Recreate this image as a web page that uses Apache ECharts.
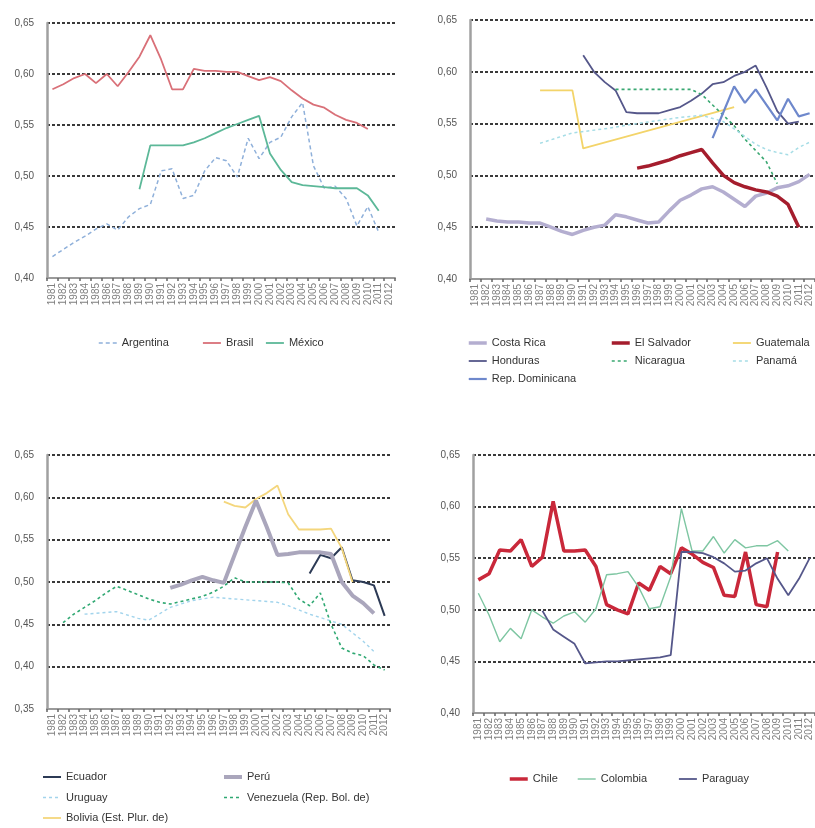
<!DOCTYPE html>
<html>
<head>
<meta charset="utf-8">
<script src="https://cdn.jsdelivr.net/npm/echarts@6/dist/echarts.min.js"></script>
<style>
html,body{margin:0;padding:0;background:#fff;}
#chart{width:815px;height:828px;}
</style>
</head>
<body>
<div id="chart"></div>
<script>
// ---- Tick labels (years) ----
const years = ['1981','1982','1983','1984','1985','1986','1987','1988','1989','1990',
  '1991','1992','1993','1994','1995','1996','1997','1998','1999','2000',
  '2001','2002','2003','2004','2005','2006','2007','2008','2009','2010','2011','2012'];

// ---- Panel 1 ----
const argentina = [0.421,0.428,0.435,0.441,0.448,0.453,0.447,0.460,0.468,0.472,0.505,0.507,0.478,0.481,0.505,0.518,0.515,0.499,0.537,0.517,0.533,0.538,0.558,0.572,0.510,0.488,0.490,0.478,0.451,0.470,0.445,null];
const brasil = [0.585,0.590,0.596,0.600,0.591,0.600,0.588,0.602,0.617,0.638,0.614,0.585,0.585,0.605,0.603,0.603,0.602,0.602,0.598,0.594,0.597,0.593,0.584,0.576,0.570,0.567,0.560,0.555,0.552,0.546,null,null];
const mexico = [null,null,null,null,null,null,null,null,0.487,0.530,0.530,0.530,0.530,0.533,0.537,0.542,0.547,0.551,0.555,0.559,0.522,0.506,0.494,0.491,0.490,0.489,0.488,0.488,0.488,0.481,0.466,null];

// ---- Panel 2 ----
const costaRica = [null,0.458,0.456,0.455,0.455,0.454,0.454,0.450,0.446,0.443,0.447,0.450,0.452,0.462,0.460,0.457,0.454,0.455,0.466,0.476,0.481,0.487,0.489,0.484,0.477,0.470,0.480,0.483,0.488,0.490,0.494,0.501];
const elSalvador = [null,null,null,null,null,null,null,null,null,null,null,null,null,null,null,0.507,0.509,0.512,0.515,0.519,0.522,0.525,0.512,0.500,0.493,0.489,0.486,0.484,0.480,0.472,0.450,null];
const guatemala = [null,null,null,null,null,null,0.582,null,null,0.582,0.526,null,null,null,null,null,null,null,null,null,null,null,null,null,0.566,null,null,null,null,null,null,null];
const honduras = [null,null,null,null,null,null,null,null,null,null,0.616,0.600,0.590,0.582,0.561,0.560,0.560,0.560,0.563,0.566,0.572,0.579,0.588,0.590,0.596,0.600,0.606,0.585,0.562,0.550,0.552,null];
const nicaragua = [null,null,null,null,null,null,null,null,null,null,null,null,null,0.583,null,null,null,null,null,null,0.583,0.578,0.568,0.558,0.548,0.535,0.524,0.513,0.492,null,null,null];
const panama = [null,null,null,null,null,null,0.531,null,null,0.541,null,null,0.545,null,null,0.550,null,0.553,null,0.556,null,0.558,null,0.552,0.545,null,0.530,0.525,0.522,0.520,0.527,0.532];
const repDominicana = [null,null,null,null,null,null,null,null,null,null,null,null,null,null,null,null,null,null,null,null,null,null,0.536,0.561,0.586,0.570,0.583,0.568,0.553,0.574,0.557,0.560];

// ---- Panel 3 ----
const ecuador = [null,null,null,null,null,null,null,null,null,null,null,null,null,null,null,null,null,null,null,null,null,null,null,null,0.510,0.532,0.528,0.541,0.502,0.500,0.496,0.460];
const uruguay = [null,null,null,0.462,null,null,0.465,null,0.457,0.455,null,0.470,null,0.478,null,0.482,null,0.480,null,0.478,null,0.476,0.472,null,0.462,null,null,0.450,null,0.430,0.418,null];
const bolivia = [null,null,null,null,null,null,null,null,null,null,null,null,null,null,null,null,0.595,0.590,0.588,0.598,0.605,0.614,0.580,0.562,0.562,0.562,0.563,0.540,0.500,null,null,null];
const peru = [null,null,null,null,null,null,null,null,null,null,null,0.493,0.497,0.502,0.506,0.502,0.499,0.532,0.565,0.596,0.565,0.532,0.533,0.535,0.535,0.535,0.533,0.500,0.484,0.475,0.463,null];
const venezuela = [null,0.452,0.462,0.470,0.478,0.487,0.495,0.490,0.485,0.480,0.476,0.474,0.477,0.480,0.483,0.488,0.495,0.505,0.500,0.500,0.500,0.500,0.499,0.480,0.472,0.487,0.450,0.422,0.416,0.413,0.402,0.396];

// ---- Panel 4 ----
const chile = [0.529,0.535,0.558,0.557,0.568,0.542,0.551,0.605,0.557,0.557,0.558,0.542,0.505,0.500,0.496,0.526,0.519,0.542,0.535,0.560,0.554,0.546,0.541,0.514,0.513,0.556,0.505,0.503,0.556,null,null,null];
const colombia = [0.516,0.495,0.469,0.482,0.472,0.500,0.493,0.487,0.494,0.498,0.488,0.501,0.534,0.535,0.537,0.522,0.501,0.503,0.532,0.598,0.557,0.557,0.571,0.555,0.568,0.560,0.562,0.562,0.567,0.557,null,null];
const paraguay = [null,null,null,null,null,null,0.499,0.481,0.474,0.467,0.448,0.449,0.450,0.450,0.451,0.452,0.453,0.454,0.456,0.556,0.556,0.555,0.551,0.545,0.537,0.538,0.545,0.550,0.530,0.514,0.530,0.550];

// ---- Axis ranges ----
const yMin = [0.40, 0.40, 0.35, 0.40];
const yMax = [0.65, 0.65, 0.65, 0.65];

const FONT = "'Liberation Sans Narrow','Liberation Sans',Arial,sans-serif";
const FONT2 = "'Liberation Sans',Arial,sans-serif";

const grids = [
  {left: 47, top: 23, width: 348, height: 255},
  {left: 470, top: 20, width: 347, height: 259},
  {left: 47, top: 455, width: 343, height: 254},
  {left: 473, top: 455, width: 347, height: 258}
];

const xAxes = grids.map((g, i) => ({
  type: 'category', gridIndex: i, data: years, boundaryGap: true,
  axisLine: {show: true, lineStyle: {color: '#9a9a9a', width: 2}},
  axisTick: {show: true, interval: 0, length: 3, lineStyle: {color: '#666', width: 1.5}},
  axisLabel: {interval: 0, rotate: 90, fontSize: 10, color: '#808080', fontFamily: FONT2, margin: 5},
  splitLine: {show: false}
}));

const yAxes = grids.map((g, i) => ({
  type: 'value', gridIndex: i, min: yMin[i], max: yMax[i], interval: 0.05,
  axisLine: {show: true, lineStyle: {color: '#a0a0a0', width: 2.5}},
  axisTick: {show: false},
  axisLabel: {fontSize: 10, color: '#555', fontFamily: FONT, margin: 13,
    formatter: v => v.toFixed(2).replace('.', ',')},
  splitLine: {show: true, lineStyle: {color: '#3a3a3a', width: 2, type: [3, 2]}}
}));

function line(name, data, gi, color, width, dash, connect) {
  return {
    name, type: 'line', data, xAxisIndex: gi, yAxisIndex: gi,
    symbol: 'none', connectNulls: !!connect, animation: false,
    lineStyle: {color, width, type: dash || 'solid'},
    itemStyle: {color}
  };
}

const series = [
  line('Argentina', argentina, 0, '#8fb0da', 1.5, [4, 3]),
  line('Brasil', brasil, 0, '#d97078', 1.8),
  line('México', mexico, 0, '#5cb898', 1.8),

  line('Costa Rica', costaRica, 1, '#b4aed0', 3.5),
  line('El Salvador', elSalvador, 1, '#a51d2d', 3.5),
  line('Guatemala', guatemala, 1, '#f3d46a', 1.8, null, true),
  line('Honduras', honduras, 1, '#55578a', 1.8),
  line('Nicaragua', nicaragua, 1, '#3aa872', 1.6, [3, 3], true),
  line('Panamá', panama, 1, '#a6dde6', 1.5, [3, 3], true),
  line('Rep. Dominicana', repDominicana, 1, '#6e88cc', 2.2),

  line('Ecuador', ecuador, 2, '#2c3a55', 2),
  line('Uruguay', uruguay, 2, '#a2d4ec', 1.4, [3, 3], true),
  line('Bolivia (Est. Plur. de)', bolivia, 2, '#f4d67c', 1.8),
  line('Perú', peru, 2, '#aaa6bc', 4),
  line('Venezuela (Rep. Bol. de)', venezuela, 2, '#2fa872', 1.6, [3, 3]),

  line('Chile', chile, 3, '#c9283a', 3.5),
  line('Colombia', colombia, 3, '#7ec6a2', 1.4),
  line('Paraguay', paraguay, 3, '#55578a', 1.8)
];

const legendText = {fontSize: 11, color: '#333', fontFamily: FONT, lineHeight: 12};
function legend(names, left, top, orient, gap) {
  return {data: names, left, top, orient: orient || 'horizontal', itemGap: gap || 10,
    itemWidth: 18, itemHeight: 10, textStyle: legendText, padding: 0,
    itemStyle: {opacity: 0}, lineStyle: {width: 'inherit'}, selectedMode: false};
}

const option = {
  backgroundColor: '#fff',
  animation: false,
  grid: grids,
  xAxis: xAxes,
  yAxis: yAxes,
  legend: [
    legend(['Argentina'], 98, 337),
    legend(['Brasil'], 202, 337),
    legend(['México'], 265, 337),
    legend(['Costa Rica', 'Honduras', 'Rep. Dominicana'], 467, 337, 'vertical', 6),
    legend(['El Salvador', 'Nicaragua'], 610, 337, 'vertical', 6),
    legend(['Guatemala', 'Panamá'], 732, 337, 'vertical', 6),
    legend(['Ecuador', 'Uruguay', 'Bolivia (Est. Plur. de)'], 42, 771, 'vertical', 8.5),
    legend(['Perú', 'Venezuela (Rep. Bol. de)'], 222, 771, 'vertical', 8.5),
    legend(['Chile'], 508, 773),
    legend(['Colombia'], 577, 773),
    legend(['Paraguay'], 678, 773)
  ],
  series
};

const chart = echarts.init(document.getElementById('chart'), null, {renderer: 'canvas'});
chart.setOption(option);
</script>
</body>
</html>
